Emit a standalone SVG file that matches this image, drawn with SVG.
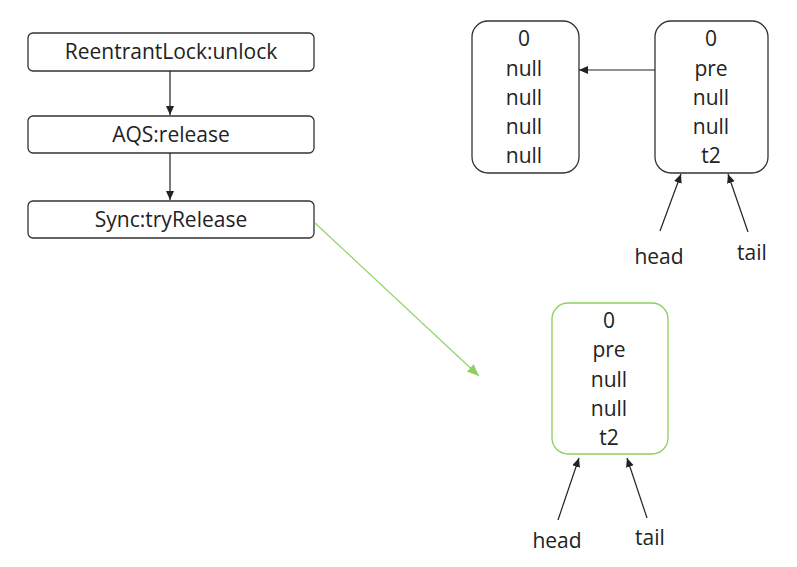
<svg xmlns="http://www.w3.org/2000/svg" width="797" height="567" viewBox="0 0 797 567">
<style>
.box{fill:#fff;stroke:#333;stroke-width:1.3}
.gbox{fill:#fff;stroke:#8ccf5e;stroke-width:1.3}
.t{font-family:"Open Sans","Liberation Sans",sans-serif;font-size:21px;fill:#222;text-anchor:middle}
.c{stroke:#222;stroke-width:1.2;fill:none}
.g{stroke:#92d36a;stroke-width:1.2;fill:none}
</style>
<defs>
<marker id="ah" markerWidth="10" markerHeight="10" refX="9" refY="5" orient="auto" markerUnits="userSpaceOnUse"><path d="M0,1 L9,5 L0,9 Z" fill="#222"/></marker>
<marker id="gh" markerWidth="14" markerHeight="12" refX="12" refY="6" orient="auto" markerUnits="userSpaceOnUse"><path d="M0,1 L12,6 L0,11 Z" fill="#8ccf5e"/></marker>
</defs>
<rect width="797" height="567" fill="#fff"/>
<g id="unlock"><rect class="box" x="28" y="33" width="286" height="38" rx="5"/><text class="t" x="171" y="59">ReentrantLock:unlock</text></g>
<g id="release"><rect class="box" x="28" y="116" width="286" height="37" rx="5"/><text class="t" x="171" y="142">AQS:release</text></g>
<g id="tryRelease"><rect class="box" x="28" y="201" width="286" height="37" rx="5"/><text class="t" x="171" y="227">Sync:tryRelease</text></g>
<g id="nodeA"><rect class="box" x="472" y="21" width="107" height="152" rx="16"/>
<text class="t" x="524" y="46">0</text><text class="t" x="524" y="76">null</text><text class="t" x="524" y="105">null</text><text class="t" x="524" y="134">null</text><text class="t" x="524" y="163">null</text></g>
<g id="nodeB"><rect class="box" x="655" y="21" width="113" height="152" rx="16"/>
<text class="t" x="711" y="46">0</text><text class="t" x="711" y="76">pre</text><text class="t" x="711" y="105">null</text><text class="t" x="711" y="134">null</text><text class="t" x="711" y="163">t2</text></g>
<g id="nodeC"><rect class="gbox" x="552" y="303" width="116" height="151" rx="16"/>
<text class="t" x="609" y="328">0</text><text class="t" x="609" y="357">pre</text><text class="t" x="609" y="387">null</text><text class="t" x="609" y="416">null</text><text class="t" x="609" y="445">t2</text></g>
<g id="labels">
<text class="t" x="659" y="264">head</text><text class="t" x="752" y="260">tail</text>
<text class="t" x="557" y="548">head</text><text class="t" x="650" y="545">tail</text>
</g>
<g id="connectors">
<line class="c" x1="170" y1="71" x2="170" y2="115" marker-end="url(#ah)"/>
<line class="c" x1="170" y1="153" x2="170" y2="200" marker-end="url(#ah)"/>
<line class="c" x1="655" y1="70" x2="579" y2="70" marker-end="url(#ah)"/>
<line class="c" x1="660" y1="231" x2="681" y2="174" marker-end="url(#ah)"/>
<line class="c" x1="748" y1="232" x2="728" y2="174" marker-end="url(#ah)"/>
<line class="c" x1="558" y1="520" x2="579" y2="458" marker-end="url(#ah)"/>
<line class="c" x1="647" y1="518" x2="627" y2="458" marker-end="url(#ah)"/>
<line class="g" x1="315" y1="223" x2="479" y2="376" marker-end="url(#gh)"/>
</g>
</svg>
